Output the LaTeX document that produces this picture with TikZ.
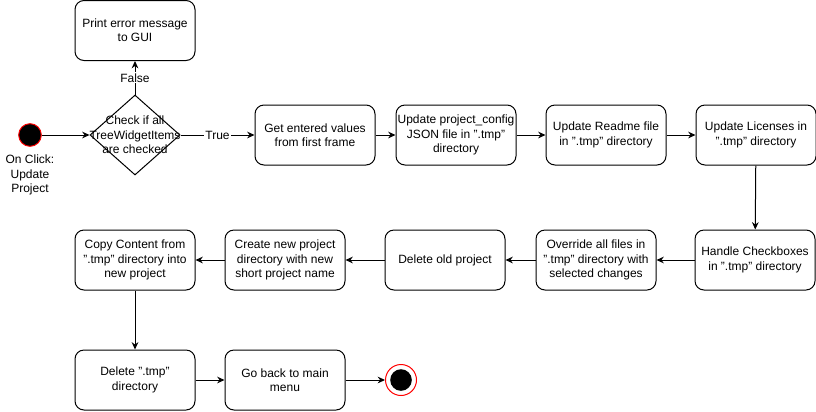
\documentclass[tikz,border=0pt]{standalone}
\usepackage{fontspec}
\setmainfont{Liberation Sans}
\usetikzlibrary{shapes.geometric,arrows.meta}

\begin{document}
\begin{tikzpicture}[x=0.75pt,y=0.75pt,yscale=-1,xscale=1,
  every node/.style={font=\fontsize{9}{10.8}\selectfont},
  actbox/.style={draw,line width=0.75pt,rounded corners=6.75pt,minimum width=90pt,minimum height=45pt,inner sep=0.75pt,align=center},
  flow/.style={draw,line width=0.75pt,-{Stealth[length=5.5pt,width=5pt]}},
  edgetext/.style={fill=white,inner sep=0.75pt}]
\useasboundingbox (0,0) rectangle (816,411);

% Start Node
\node (start) [circle,draw=red,fill=black,line width=0.75pt,minimum size=17pt,inner sep=0pt] at (30,135) {};
% Text Node
\node (clicktext) [align=center,inner sep=0.75pt] at (30,175) {On Click:\\Update\\Project};
% Decision Node
\node (check) [diamond,draw,line width=0.75pt,minimum width=67.5pt,minimum height=60pt,inner sep=0pt,
  label={[align=center,inner sep=0pt]center:Check if all\\TreeWidgetItems\\are checked}] at (135,135) {};
% Action Nodes
\node (printerr) [actbox] at (135,30.5) {Print error message\\to GUI};
\node (getvals) [actbox] at (315,135) {Get entered values\\from first frame};
\node (updconfig) [actbox] at (456,135) {Update project\_config\\JSON file in ".tmp"\\directory};
\node (updreadme) [actbox] at (606,135) {Update Readme file\\in ".tmp" directory};
\node (updlic) [actbox] at (756,135) {Update Licenses in\\".tmp" directory};
\node (checkbox) [actbox] at (755,260) {Handle Checkboxes\\in ".tmp" directory};
\node (override) [actbox] at (596,260) {Override all files in\\".tmp" directory with\\selected changes};
\node (delold) [actbox] at (445,260) {Delete old project};
\node (newdir) [actbox] at (285,260) {Create new project\\directory with new\\short project name};
\node (copytmp) [actbox] at (135,260) {Copy Content from\\".tmp" directory into\\new project};
\node (deltmp) [actbox] at (135,380) {Delete ".tmp"\\directory};
\node (goback) [actbox] at (285,380) {Go back to main\\menu};
% End Node
\node (stop) [circle,draw=red,line width=0.75pt,minimum size=23.25pt,inner sep=0pt,
  path picture={\fill (path picture bounding box.center) circle (8.1pt);}] at (401,380) {};

% Connection
\draw [flow] (start) -- (check.west);
% Connection
\draw [flow] (check.north) -- node [edgetext] {False} (printerr);
% Connection
\draw [flow] (check.east) -- node [edgetext] {True} (getvals);
% Connection
\draw [flow] (getvals) -- (updconfig);
% Connection
\draw [flow] (updconfig) -- (updreadme);
% Connection
\draw [flow] (updreadme) -- (updlic);
% Connection
\draw [flow] (updlic) -- (checkbox);
% Connection
\draw [flow] (checkbox) -- (override);
% Connection
\draw [flow] (override) -- (delold);
% Connection
\draw [flow] (delold) -- (newdir);
% Connection
\draw [flow] (newdir) -- (copytmp);
% Connection
\draw [flow] (copytmp) -- (deltmp);
% Connection
\draw [flow] (deltmp) -- (goback);
% Connection
\draw [flow] (goback) -- (stop);

\end{tikzpicture}
\end{document}
